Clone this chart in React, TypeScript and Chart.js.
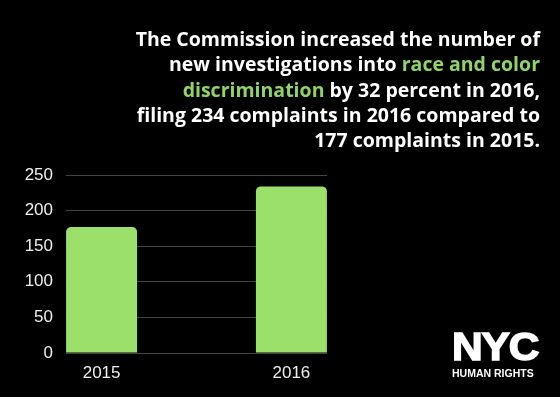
import React, { useEffect, useRef } from "react";
import { Chart, registerables } from "chart.js";

Chart.register(...registerables);

const years: string[] = ["2015", "2016"];
const complaints: number[] = [177, 234];
const yTicks: number[] = [0, 50, 100, 150, 200, 250];

const BAR = "#9BE06A";
const GREEN_TEXT = "#8FD46A";

export default function App() {
  const ref = useRef<HTMLCanvasElement | null>(null);

  useEffect(() => {
    if (!ref.current) return;
    const chart = new Chart(ref.current, {
      type: "bar",
      data: {
        datasets: [
          {
            data: years.map((y, i) => ({ x: Number(y), y: complaints[i] })),
            backgroundColor: BAR,
            borderRadius: 5,
            barPercentage: 0.374,
            categoryPercentage: 1,
          },
        ],
      },
      options: {
        animation: false,
        responsive: false,
        layout: { padding: { left: 0, right: 233, top: 175, bottom: 0 } },
        plugins: { legend: { display: false }, tooltip: { enabled: false } },
        scales: {
          x: {
            type: "linear",
            bounds: "data",
            offset: false,
            afterDataLimits: (s: any) => {
              s.min = s.min - 0.1875;
              s.max = s.max + 0.1875;
            },
            afterBuildTicks: (s: any) => {
              s.ticks = years.map((y) => ({ value: Number(y) }));
            },
            afterFit: (s: any) => {
              s.height = 44;
            },
            grid: { display: false, drawTicks: false },
            border: { display: false },
            ticks: {
              color: "#eeeeee",
              font: { family: "'Liberation Sans', Arial, sans-serif", size: 17 },
              padding: 10,
              callback: (v: any) => String(v),
            },
          },
          y: {
            min: yTicks[0],
            max: yTicks[yTicks.length - 1],
            afterBuildTicks: (s: any) => {
              s.ticks = yTicks.map((v) => ({ value: v }));
            },
            afterFit: (s: any) => {
              s.width = 66;
            },
            grid: { color: "#444444", lineWidth: 1, drawTicks: false },
            border: { display: false },
            ticks: {
              color: "#eeeeee",
              font: { family: "'Liberation Sans', Arial, sans-serif", size: 17 },
              padding: 13,
            },
          },
        },
      },
    } as any);
    return () => chart.destroy();
  }, []);

  return (
    <div
      style={{
        position: "absolute",
        left: 0,
        top: 0,
        width: 560,
        height: 397,
        background: "#000",
        overflow: "hidden",
      }}
    >
      <canvas ref={ref} width={560} height={397} style={{ display: "block", width: 560, height: 397 }} />
      <div
        style={{
          position: "absolute",
          right: 20,
          top: 26,
          width: 540,
          textAlign: "right",
          color: "#ffffff",
          fontFamily: "'Open Sans', Lato, sans-serif",
          fontWeight: 700,
          fontSize: 19.5,
          lineHeight: "25.3px",
          whiteSpace: "nowrap",
        }}
      >
        <div>The Commission increased the number of</div>
        <div>
          new investigations into <span style={{ color: GREEN_TEXT }}>race and color</span>
        </div>
        <div>
          <span style={{ color: GREEN_TEXT }}>discrimination</span> by 32 percent in 2016,
        </div>
        <div>filing 234 complaints in 2016 compared to</div>
        <div>177 complaints in 2015.</div>
      </div>
      <div
        style={{
          position: "absolute",
          left: 452,
          top: 327,
          color: "#fff",
          fontFamily: "'Liberation Sans', Arial, sans-serif",
          fontWeight: 700,
          fontSize: 39,
          lineHeight: 1,
          letterSpacing: -1,
          transform: "scaleX(1.09)",
          transformOrigin: "left top",
          WebkitTextStroke: "1.5px #fff",
          whiteSpace: "nowrap",
        }}
      >
        NYC
      </div>
      <div
        style={{
          position: "absolute",
          left: 452,
          top: 368,
          color: "#fff",
          fontFamily: "'Liberation Sans', Arial, sans-serif",
          fontWeight: 700,
          fontSize: 10.5,
          lineHeight: 1,
          whiteSpace: "nowrap",
        }}
      >
        HUMAN RIGHTS
      </div>
    </div>
  );
}
